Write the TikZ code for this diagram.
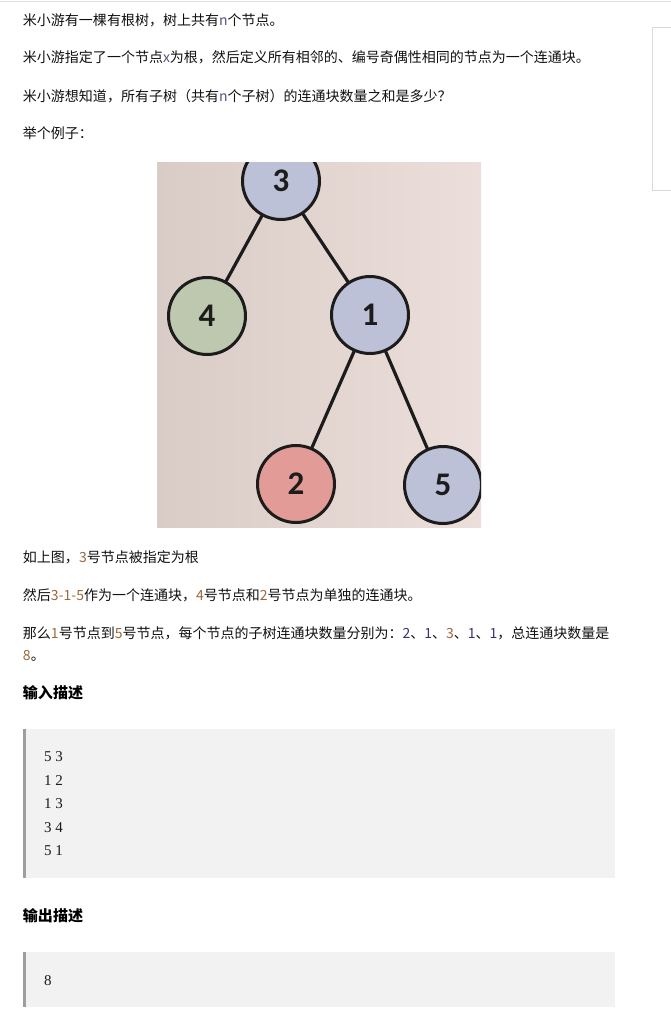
\documentclass[tikz,border=0pt]{standalone}
\usepackage{fontspec}
\setmainfont{Liberation Serif}
\newfontfamily\cjk{Noto Sans CJK SC}
\newfontfamily\nodefont{Carlito}
\newfontfamily\codefont{Liberation Serif}
\definecolor{textc}{HTML}{111111}
\definecolor{numc}{HTML}{9A6A3A}
\definecolor{listc}{HTML}{3A3270}
\definecolor{varc}{HTML}{5A5080}
\definecolor{topline}{HTML}{E3E3E3}
\definecolor{boxline}{HTML}{D9D9D9}
\definecolor{codebg}{HTML}{F2F2F2}
\definecolor{codebar}{HTML}{9E9E9E}
\definecolor{codec}{HTML}{1A1A1A}
\definecolor{photoL}{HTML}{D9CBC5}
\definecolor{photoR}{HTML}{ECDFDB}
\definecolor{edgec}{HTML}{1C1C1C}
\definecolor{bluen}{HTML}{BCC1D7}
\definecolor{greenn}{HTML}{BDC8AE}
\definecolor{redn}{HTML}{E39B98}
\begin{document}
\begin{tikzpicture}[x=1pt,y=-1pt,
  every node/.style={inner sep=0pt,outer sep=0pt},
  txt/.style={anchor=west,font=\cjk\fontsize{14}{16}\selectfont,text=textc},
  head/.style={anchor=west,font=\cjk\bfseries\fontsize{15}{17}\selectfont,text=black},
  code/.style={anchor=west,font=\codefont\fontsize{15}{17}\selectfont,text=codec},
  tnode/.style={circle,draw=edgec,line width=3pt,minimum size=77pt,text=edgec,
    font=\nodefont\bfseries\fontsize{33}{33}\selectfont},
  tedge/.style={draw=edgec,line width=3.2pt}]
\useasboundingbox (0,0) rectangle (671,1017);
\fill[white] (0,0) rectangle (671,1017);
% page frame lines
\draw[topline,line width=1.5pt] (0,1.5) -- (671,1.5);
\draw[boxline,line width=1pt] (672,27.5) -- (652.5,27.5) -- (652.5,190.5) -- (672,190.5);
% intro text
\node[txt] (l1) at (23,20) {米小游有一棵有根树，树上共有\textcolor{varc}{n}个节点。};
\node[txt] (l2) at (23,57) {米小游指定了一个节点\textcolor{varc}{x}为根，然后定义所有相邻的、编号奇偶性相同的节点为一个连通块。};
\node[txt] (l3) at (23,96) {米小游想知道，所有子树（共有\textcolor{varc}{n}个子树）的连通块数量之和是多少？};
\node[txt] (l4) at (23,133) {举个例子：};
% picture
\begin{scope}
\clip (157,162) rectangle (481,527);
\shade[left color=photoL,right color=photoR] (157,162) rectangle (481,527);
\node[tnode,fill=bluen] (n3) at (281,181) {3};
\node[tnode,fill=greenn] (n4) at (207,316) {4};
\node[tnode,fill=bluen] (n1) at (370,315) {1};
\node[tnode,fill=redn] (n2) at (296,484) {2};
\node[tnode,fill=bluen] (n5) at (443,485) {5};
\draw[tedge] (n3) -- (n4);
\draw[tedge] (n3) -- (n1);
\draw[tedge] (n1) -- (n2);
\draw[tedge] (n1) -- (n5);
\end{scope}
% explanation
\node[txt] (e1) at (23,557) {如上图，\textcolor{numc}{3}号节点被指定为根};
\node[txt] (e2) at (23,595) {然后\textcolor{numc}{3-1-5}作为一个连通块，\textcolor{numc}{4}号节点和\textcolor{numc}{2}号节点为单独的连通块。};
\node[txt] (e3) at (23,633) {那么\textcolor{numc}{1}号节点到\textcolor{numc}{5}号节点，每个节点的子树连通块数量分别为：\textcolor{listc}{2}、\textcolor{listc}{1}、\textcolor{numc}{3}、\textcolor{listc}{1}、\textcolor{listc}{1}，总连通块数量是};
\node[txt] (e4) at (23,656) {\textcolor{numc}{8}。};
% input
\node[head] (h1) at (23,693) {输入描述};
\fill[codebg] (23,729) rectangle (615,878);
\fill[codebar] (23,729) rectangle (26,878);
\node[code] (c1) at (44,757) {5 3};
\node[code] (c2) at (44,781) {1 2};
\node[code] (c3) at (44,804) {1 3};
\node[code] (c4) at (44,828) {3 4};
\node[code] (c5) at (44,851) {5 1};
% output
\node[head] (h2) at (23,916) {输出描述};
\fill[codebg] (23,952) rectangle (615,1007);
\fill[codebar] (23,952) rectangle (26,1007);
\node[code] (o1) at (44,981) {8};
\end{tikzpicture}
\end{document}
